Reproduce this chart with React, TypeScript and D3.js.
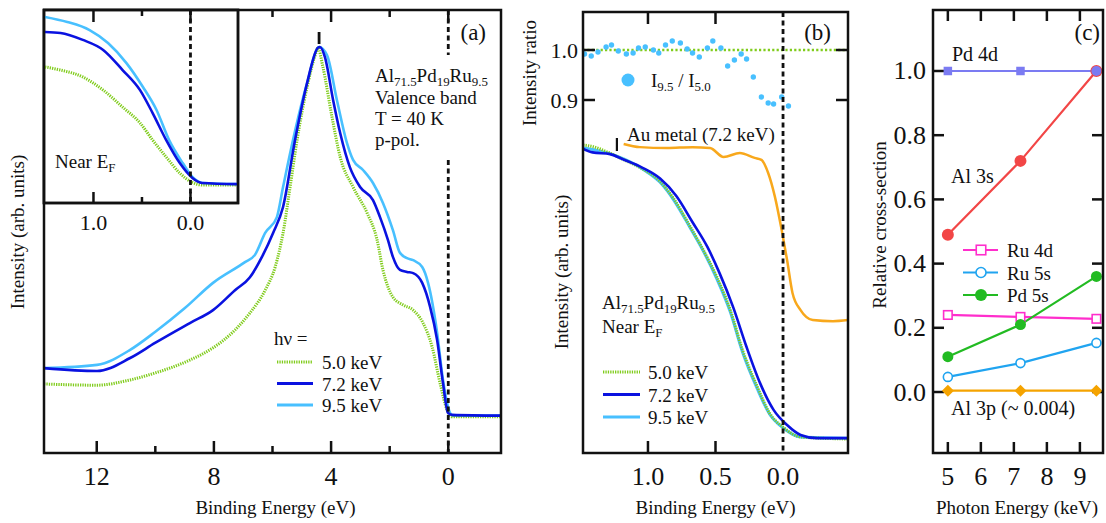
import { useEffect, useRef } from 'react';
import * as d3 from 'd3';

type Pt = [number, number];

// (a) valence band spectra: [binding energy (eV), intensity normalised to peak]
const vb50: Pt[] = [
  [13.8, 0.170], [11.99, 0.167], [10.86, 0.180], [10.01, 0.197], [8.82, 0.229], [8.03, 0.259],
  [7.28, 0.303], [6.77, 0.345], [6.25, 0.401], [5.91, 0.458], [5.64, 0.542], [5.40, 0.655],
  [5.16, 0.771], [4.82, 0.901], [4.52, 0.985], [4.45, 0.998], [4.28, 0.951], [3.97, 0.828],
  [3.69, 0.729], [3.25, 0.655], [2.77, 0.591], [2.43, 0.525], [2.23, 0.451], [1.89, 0.384],
  [1.55, 0.365], [1.20, 0.352], [0.86, 0.320], [0.55, 0.261], [0.28, 0.172], [0.04, 0.106],
  [-0.13, 0.089], [-1.8, 0.089],
];
const vb72: Pt[] = [
  [13.8, 0.209], [11.99, 0.202], [10.86, 0.234], [10.01, 0.271], [8.82, 0.320], [8.03, 0.352],
  [7.28, 0.401], [6.77, 0.433], [6.36, 0.483], [5.98, 0.542], [5.64, 0.606], [5.23, 0.771],
  [4.82, 0.911], [4.45, 0.998], [4.38, 1.0], [4.21, 0.975], [3.93, 0.869], [3.69, 0.788],
  [3.36, 0.704], [3.01, 0.655], [2.57, 0.623], [2.33, 0.581], [2.06, 0.525], [1.89, 0.483],
  [1.65, 0.451], [1.41, 0.446], [1.20, 0.443], [0.89, 0.419], [0.62, 0.360], [0.38, 0.278],
  [0.18, 0.172], [0.01, 0.099], [-0.13, 0.094], [-1.8, 0.092],
];
const vb95: Pt[] = [
  [13.8, 0.209], [11.99, 0.217], [10.86, 0.254], [10.01, 0.298], [8.99, 0.357], [8.03, 0.419],
  [6.94, 0.470], [6.60, 0.488], [6.25, 0.542], [5.85, 0.581], [5.64, 0.655], [5.30, 0.771],
  [4.82, 0.911], [4.41, 1.0], [4.14, 0.980], [3.80, 0.869], [3.46, 0.764], [3.25, 0.722],
  [2.91, 0.697], [2.57, 0.665], [2.23, 0.616], [1.89, 0.549], [1.65, 0.493], [1.41, 0.480],
  [1.20, 0.475], [0.89, 0.458], [0.69, 0.419], [0.38, 0.296], [0.18, 0.180], [-0.06, 0.099],
  [-0.16, 0.092], [-1.8, 0.092],
];

// (a) inset, near E_F
const ef50: Pt[] = [
  [1.50, 0.705], [1.34, 0.689], [1.11, 0.653], [0.90, 0.585], [0.70, 0.497], [0.52, 0.415],
  [0.39, 0.326], [0.25, 0.238], [0.11, 0.155], [-0.01, 0.109], [-0.12, 0.093], [-0.49, 0.093],
];
const ef72: Pt[] = [
  [1.50, 0.886], [1.34, 0.881], [1.11, 0.845], [0.90, 0.793], [0.70, 0.689], [0.52, 0.585],
  [0.39, 0.466], [0.25, 0.326], [0.11, 0.207], [-0.02, 0.130], [-0.12, 0.104], [-0.49, 0.098],
];
const ef95: Pt[] = [
  [1.50, 0.964], [1.27, 0.938], [1.04, 0.896], [0.85, 0.829], [0.66, 0.725], [0.49, 0.601],
  [0.35, 0.482], [0.22, 0.326], [0.08, 0.207], [-0.02, 0.135], [-0.12, 0.104], [-0.49, 0.098],
];

// (b) near E_F spectra
const nb50: Pt[] = [
  [1.48, 1.010], [1.41, 1.005], [1.30, 0.986], [1.19, 0.962], [1.04, 0.928], [0.91, 0.885],
  [0.81, 0.826], [0.69, 0.732], [0.59, 0.649], [0.49, 0.557], [0.39, 0.443], [0.30, 0.306],
  [0.19, 0.179], [0.10, 0.089], [0.00, 0.041], [-0.13, 0.007], [-0.48, 0.0],
];
const nb72: Pt[] = [
  [1.48, 0.997], [1.41, 0.985], [1.28, 0.979], [1.19, 0.962], [1.04, 0.932], [0.91, 0.895],
  [0.79, 0.835], [0.67, 0.745], [0.56, 0.660], [0.47, 0.570], [0.37, 0.454], [0.27, 0.316],
  [0.17, 0.192], [0.07, 0.100], [-0.03, 0.048], [-0.13, 0.014], [-0.25, 0.003], [-0.48, 0.003],
];
const nb95: Pt[] = [
  [1.48, 1.0], [1.36, 0.990], [1.23, 0.972], [1.04, 0.928], [0.91, 0.882], [0.81, 0.822],
  [0.69, 0.728], [0.59, 0.646], [0.49, 0.550], [0.39, 0.436], [0.30, 0.299], [0.19, 0.172],
  [0.10, 0.086], [0.00, 0.038], [-0.13, 0.007], [-0.48, 0.003],
];
const auMetal: Pt[] = [
  [1.18, 1.014], [1.06, 1.003], [0.86, 1.0], [0.67, 1.003], [0.54, 1.0], [0.44, 0.969],
  [0.32, 0.983], [0.21, 0.966], [0.16, 0.959], [0.11, 0.914], [0.06, 0.832], [0.01, 0.718],
  [-0.03, 0.615], [-0.07, 0.502], [-0.13, 0.443], [-0.22, 0.409], [-0.37, 0.405], [-0.48, 0.409],
];
// (b) ratio I9.5 / I5.0
const ratioE = [
  1.47, 1.42, 1.37, 1.31, 1.27, 1.22, 1.16, 1.11, 1.07, 1.02, 0.96, 0.92, 0.87, 0.82, 0.76, 0.71,
  0.67, 0.62, 0.56, 0.52, 0.46, 0.41, 0.36, 0.31, 0.27, 0.22, 0.16, 0.11, 0.07, 0.01, -0.04,
];
const ratioVal = [
  0.992, 0.988, 0.996, 1.006, 1.010, 0.998, 0.992, 0.994, 1.004, 1.006, 1.000, 0.994, 1.010, 1.018,
  1.014, 1.002, 0.994, 0.986, 1.004, 1.018, 1.004, 0.968, 0.980, 0.992, 0.982, 0.946, 0.906, 0.894,
  0.892, 0.906, 0.888,
];

// (c) relative cross-sections
const photonE = [5.0, 7.2, 9.5];
const pd4d = [1.0, 1.0, 1.0];
const al3s = [0.49, 0.72, 1.0];
const ru4d = [0.24, 0.234, 0.228];
const ru5s = [0.047, 0.09, 0.153];
const pd5s = [0.11, 0.21, 0.36];
const al3p = [0.004, 0.004, 0.004];

const aMajor = [12, 8, 4, 0];
const aMinor = [10, 6, 2];
const insetMajor = [1.0, 0.0];
const insetMinor = [0.5];
const bTicks = [1.0, 0.5, 0.0];
const ratioTicks = [1.0, 0.9];
const cXTicks = [5, 6, 7, 8, 9];
const cYTicks = [0.0, 0.2, 0.4, 0.6, 0.8, 1.0];
const peakE = 4.41;
const auMarkE = 1.23;

const FONT = "'Liberation Serif', 'DejaVu Serif', 'Times New Roman', serif";
const GREEN = '#80cc1c';
const BLUE = '#0a12e0';
const SKY = '#48c0ff';
const AU = '#f8a81c';
const INK = '#111';

type Sel = d3.Selection<SVGGElement, unknown, null, undefined>;

function txt(g: Sel, x: number, y: number, s: string, size: number, anchor = 'start') {
  return g.append('text').attr('x', x).attr('y', y).style('font-family', FONT)
    .style('font-size', `${size}px`).attr('text-anchor', anchor).attr('fill', INK).text(s);
}

// text with subscripts: [string, isSub]
function rich(g: Sel, x: number, y: number, parts: [string, boolean][], size: number) {
  const t = g.append('text').attr('x', x).attr('y', y).style('font-family', FONT)
    .style('font-size', `${size}px`).attr('fill', INK).style('white-space', 'pre');
  const shift = size * 0.22;
  let down = false;
  parts.forEach(([s, sub]) => {
    const ts = t.append('tspan').text(s);
    if (sub) {
      ts.style('font-size', `${size * 0.68}px`);
      if (!down) { ts.attr('dy', shift); down = true; }
    } else if (down) { ts.attr('dy', -shift); down = false; }
  });
  return t;
}

function vline(g: Sel, x: number, y1: number, y2: number, w = 2.5, dash?: string) {
  const l = g.append('line').attr('x1', x).attr('x2', x).attr('y1', y1).attr('y2', y2)
    .attr('stroke', INK).attr('stroke-width', w);
  if (dash) l.attr('stroke-dasharray', dash);
  return l;
}
function hline(g: Sel, y: number, x1: number, x2: number, w = 2.5) {
  return g.append('line').attr('x1', x1).attr('x2', x2).attr('y1', y).attr('y2', y)
    .attr('stroke', INK).attr('stroke-width', w);
}
function frame(g: Sel, x0: number, y0: number, x1: number, y1: number, fill = 'none') {
  g.append('rect').attr('x', x0).attr('y', y0).attr('width', x1 - x0).attr('height', y1 - y0)
    .attr('fill', fill).attr('stroke', INK).attr('stroke-width', 2.5);
}
function clip(svg: d3.Selection<SVGSVGElement, unknown, null, undefined>, id: string, x0: number, y0: number, x1: number, y1: number) {
  svg.select('defs').append('clipPath').attr('id', id).append('rect')
    .attr('x', x0).attr('y', y0).attr('width', x1 - x0).attr('height', y1 - y0);
}
function curve(g: Sel, data: Pt[], x: d3.ScaleLinear<number, number>, y: d3.ScaleLinear<number, number>, color: string, dotted = false, w = 2.6) {
  const line = d3.line<Pt>().x(d => x(d[0])).y(d => y(d[1])).curve(d3.curveMonotoneX);
  const p = g.append('path').datum(data).attr('d', line).attr('fill', 'none')
    .attr('stroke', color).attr('stroke-width', dotted ? 3 : w).attr('stroke-linejoin', 'round');
  if (dotted) p.attr('stroke-dasharray', '1.3,1.1');
  return p;
}
function legendLine(g: Sel, x1: number, x2: number, y: number, color: string, dotted = false) {
  const l = g.append('line').attr('x1', x1).attr('x2', x2).attr('y1', y).attr('y2', y)
    .attr('stroke', color).attr('stroke-width', 3.2);
  if (dotted) l.attr('stroke-dasharray', '1.3,1.1');
}

const App = () => {
  const ref = useRef<SVGSVGElement>(null);

  useEffect(() => {
    const svg = d3.select(ref.current as SVGSVGElement);
    svg.selectAll('*').remove();
    svg.append('defs');
    const root = svg.append('g') as unknown as Sel;

    // ---------------- panel (a) ----------------
    const ax = d3.scaleLinear().domain([13.8, -1.8]).range([44, 501]);
    const ay = d3.scaleLinear().domain([0, 1]).range([453, 47]);
    clip(svg, 'clipA', 44, 10, 501, 453);
    const ga = root.append('g').attr('clip-path', 'url(#clipA)') as unknown as Sel;
    curve(ga, vb95, ax, ay, SKY);
    curve(ga, vb50, ax, ay, GREEN, true);
    curve(ga, vb72, ax, ay, BLUE);

    vline(root, ax(0), 10, 55, 2.8, '5,3.5');
    vline(root, ax(0), 160, 453, 2.8, '5,3.5');
    vline(root, ax(peakE), 32, 44, 2.8);

    aMajor.forEach(v => { vline(root, ax(v), 453, 441); vline(root, ax(v), 10, 22); });
    aMinor.forEach(v => { vline(root, ax(v), 453, 446); vline(root, ax(v), 10, 17); });
    aMajor.forEach(v => txt(root, ax(v), 485, String(v), 26, 'middle'));
    frame(root, 44, 10, 501, 453);
    txt(root, ax(5.9), 514, 'Binding Energy (eV)', 19, 'middle');
    txt(root, 0, 0, 'Intensity (arb. units)', 19, 'middle')
      .attr('transform', 'translate(24,232) rotate(-90)');

    txt(root, 486, 40, '(a)', 23, 'end');
    rich(root, 375, 82, [['Al', false], ['71.5', true], ['Pd', false], ['19', true], ['Ru', false], ['9.5', true]], 19);
    txt(root, 375, 104, 'Valence band', 19);
    txt(root, 375, 125, 'T = 40 K', 19);
    txt(root, 375, 146, 'p-pol.', 19);

    txt(root, 274, 345, 'h\u03bd =', 19);
    const legA: [string, string, boolean][] = [['5.0 keV', GREEN, true], ['7.2 keV', BLUE, false], ['9.5 keV', SKY, false]];
    legA.forEach(([s, c, d], i) => {
      const y = 362 + i * 21.5;
      legendLine(root, 277, 313, y, c, d);
      txt(root, 322, y + 7, s, 19);
    });

    // inset
    const ix = d3.scaleLinear().domain([1.51, -0.49]).range([44, 238]);
    const iy = d3.scaleLinear().domain([0, 1]).range([203, 10]);
    frame(root, 44, 10, 238, 203, '#fff');
    clip(svg, 'clipI', 44, 10, 238, 203);
    const gi = root.append('g').attr('clip-path', 'url(#clipI)') as unknown as Sel;
    curve(gi, ef95, ix, iy, SKY);
    curve(gi, ef50, ix, iy, GREEN, true);
    curve(gi, ef72, ix, iy, BLUE);
    vline(root, ix(0), 10, 203, 2.8, '5,3.5');
    insetMajor.forEach(v => { vline(root, ix(v), 203, 192); vline(root, ix(v), 10, 22); });
    insetMinor.forEach(v => { vline(root, ix(v), 203, 197); vline(root, ix(v), 10, 16); });
    insetMajor.forEach(v => txt(root, ix(v), 230, v.toFixed(1), 22, 'middle'));
    frame(root, 44, 10, 238, 203);
    rich(root, 55, 168, [['Near E', false], ['F', true]], 19);

    // ---------------- panel (b) ----------------
    const bx = d3.scaleLinear().domain([1.481, -0.481]).range([583, 848]);
    const by = d3.scaleLinear().domain([0, 1]).range([439, 148]);
    const ry = d3.scaleLinear().domain([0.9, 1.0]).range([100, 50]);
    clip(svg, 'clipB', 583, 12, 848, 453);
    const gb = root.append('g').attr('clip-path', 'url(#clipB)') as unknown as Sel;

    gb.append('line').attr('x1', 583).attr('x2', 848).attr('y1', ry(1.0)).attr('y2', ry(1.0))
      .attr('stroke', GREEN).attr('stroke-width', 2.6).attr('stroke-dasharray', '2.2,2.2');
    gb.selectAll('circle.ratio').data(ratioE).enter().append('circle')
      .attr('cx', d => bx(d)).attr('cy', (_, i) => ry(ratioVal[i])).attr('r', 2.7).attr('fill', SKY);

    curve(gb, auMetal, bx, by, AU, false, 2.5);
    curve(gb, nb95, bx, by, SKY, false, 3);
    curve(gb, nb50, bx, by, GREEN, true);
    curve(gb, nb72, bx, by, BLUE);

    vline(root, bx(0), 12, 453, 2.8, '5,3.5');
    vline(root, bx(auMarkE), 138, 151, 2.2);

    bTicks.filter(v => v !== 0).forEach(v => { vline(root, bx(v), 453, 441); vline(root, bx(v), 12, 24); });
    bTicks.forEach(v => txt(root, bx(v), 485, v.toFixed(1), 26, 'middle'));
    ratioTicks.forEach(v => { hline(root, ry(v), 583, 595); hline(root, ry(v), 836, 848); });
    ratioTicks.forEach(v => txt(root, 578, ry(v) + 8, v.toFixed(1), 22, 'end'));
    frame(root, 583, 12, 848, 453);

    txt(root, bx(0.5), 514, 'Binding Energy (eV)', 19, 'middle');
    txt(root, 0, 0, 'Intensity ratio', 19, 'middle').attr('transform', 'translate(536,73) rotate(-90)');
    txt(root, 0, 0, 'Intensity (arb. units)', 19, 'middle').attr('transform', 'translate(568,272) rotate(-90)');
    txt(root, 831, 40, '(b)', 23, 'end');

    root.append('circle').attr('cx', 628).attr('cy', 80).attr('r', 6.5).attr('fill', SKY);
    rich(root, 651, 87, [['I', false], ['9.5', true], [' / I', false], ['5.0', true]], 19);
    txt(root, 627, 141, 'Au metal (7.2 keV)', 19);

    rich(root, 602, 309, [['Al', false], ['71.5', true], ['Pd', false], ['19', true], ['Ru', false], ['9.5', true]], 19);
    rich(root, 602, 333, [['Near E', false], ['F', true]], 19);
    legA.forEach(([s, c, d], i) => {
      const y = 372 + i * 22.5;
      legendLine(root, 603, 640, y, c, d);
      txt(root, 648, y + 7, s, 19);
    });

    // ---------------- panel (c) ----------------
    const cx = d3.scaleLinear().domain([4.55, 9.7]).range([933, 1103]);
    const cy = d3.scaleLinear().domain([-0.19, 1.19]).range([453, 10]);
    cXTicks.forEach(v => { vline(root, cx(v), 453, 442); vline(root, cx(v), 10, 21); });
    cYTicks.forEach(v => { hline(root, cy(v), 933, 944); hline(root, cy(v), 1092, 1103); });
    cXTicks.forEach(v => txt(root, cx(v), 485, String(v), 26, 'middle'));
    cYTicks.forEach(v => txt(root, 926, cy(v) + 8.5, v.toFixed(1), 26, 'end'));

    const gc = root.append('g') as unknown as Sel;
    const sLine = (vals: number[], color: string) => {
      const l = d3.line<number>().x((_, i) => cx(photonE[i])).y(d => cy(d));
      gc.append('path').datum(vals).attr('d', l).attr('fill', 'none').attr('stroke', color).attr('stroke-width', 2.2);
    };
    const C_PD4D = '#7b7bf2', C_AL3S = '#f24646', C_RU4D = '#ff2ecc', C_RU5S = '#20a4f0', C_PD5S = '#22bb22', C_AL3P = '#f5a300';
    const square = (x: number, y: number, s: number, color: string, open: boolean) =>
      gc.append('rect').attr('x', x - s / 2).attr('y', y - s / 2).attr('width', s).attr('height', s)
        .attr('fill', open ? '#fff' : color).attr('stroke', color).attr('stroke-width', open ? 1.6 : 0);
    const dot = (x: number, y: number, r: number, color: string, open: boolean) =>
      gc.append('circle').attr('cx', x).attr('cy', y).attr('r', r)
        .attr('fill', open ? '#fff' : color).attr('stroke', color).attr('stroke-width', open ? 1.6 : 0);
    const diamond = (x: number, y: number, s: number, color: string) =>
      gc.append('path').attr('d', `M${x},${y - s}L${x + s},${y}L${x},${y + s}L${x - s},${y}Z`).attr('fill', color);

    sLine(al3p, C_AL3P);
    sLine(ru5s, C_RU5S);
    sLine(ru4d, C_RU4D);
    sLine(pd5s, C_PD5S);
    sLine(al3s, C_AL3S);
    sLine(pd4d, C_PD4D);
    photonE.forEach((e, i) => {
      diamond(cx(e), cy(al3p[i]), 6, C_AL3P);
      dot(cx(e), cy(ru5s[i]), 4.5, C_RU5S, true);
      square(cx(e), cy(ru4d[i]), 8.5, C_RU4D, true);
      dot(cx(e), cy(pd5s[i]), 5.5, C_PD5S, false);
      dot(cx(e), cy(al3s[i]), 6, C_AL3S, false);
      if (i < 2) square(cx(e), cy(pd4d[i]), 8.5, C_PD4D, false);
      else dot(cx(e), cy(pd4d[i]), 5, C_PD4D, false);
    });

    const legC: [string, string, string][] = [['Ru 4d', C_RU4D, 'sq'], ['Ru 5s', C_RU5S, 'oc'], ['Pd 5s', C_PD5S, 'fc']];
    legC.forEach(([s, c, m], i) => {
      const y = 250 + i * 22.5;
      gc.append('line').attr('x1', 963).attr('x2', 998).attr('y1', y).attr('y2', y).attr('stroke', c).attr('stroke-width', 2.2);
      if (m === 'sq') square(981, y, 9.5, c, true);
      else if (m === 'oc') dot(981, y, 5, c, true);
      else dot(981, y, 6, c, false);
      txt(root, 1007, y + 7, s, 19);
    });

    txt(root, 952, 61, 'Pd 4d', 20);
    txt(root, 951, 183, 'Al 3s', 20);
    txt(root, 951, 415, 'Al 3p (~ 0.004)', 20);
    txt(root, 1100, 40, '(c)', 23, 'end');
    frame(root, 933, 10, 1103, 453);
    txt(root, 1017, 514, 'Photon Energy (keV)', 19, 'middle');
    txt(root, 0, 0, 'Relative cross-section', 19, 'middle').attr('transform', 'translate(886,225) rotate(-90)');
  }, []);

  return (
    <svg ref={ref} width={1106} height={523}
      style={{ position: 'absolute', left: 0, top: 0, background: '#fff' }} />
  );
};

export default App;
